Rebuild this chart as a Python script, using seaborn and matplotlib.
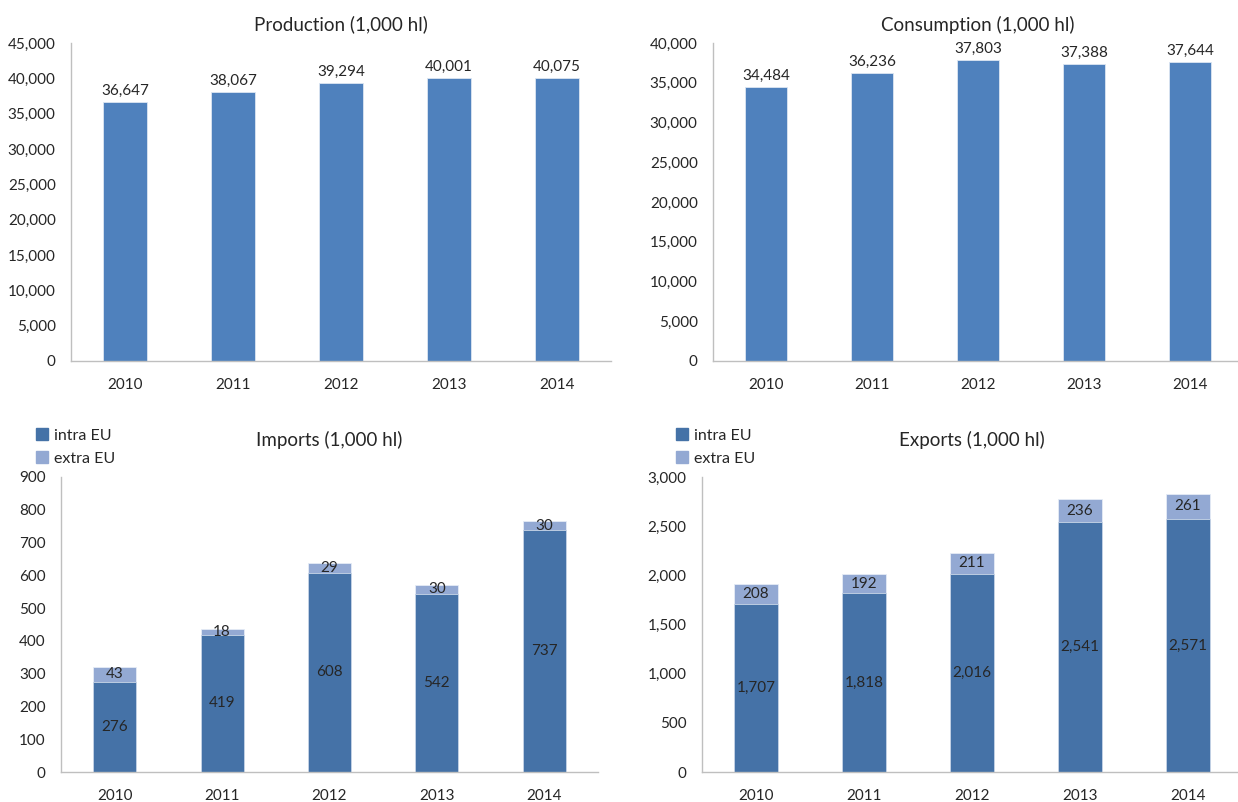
import matplotlib
matplotlib.use("Agg")
import matplotlib.pyplot as plt
import matplotlib.ticker as mticker
from matplotlib.patches import Patch
import seaborn as sns
import pandas as pd

years = ["2010", "2011", "2012", "2013", "2014"]
production = [36647, 38067, 39294, 40001, 40075]
consumption = [34484, 36236, 37803, 37388, 37644]
imports_intra = [276, 419, 608, 542, 737]
imports_extra = [43, 18, 29, 30, 30]
exports_intra = [1707, 1818, 2016, 2541, 2571]
exports_extra = [208, 192, 211, 236, 261]

BLUE = "#4F81BD"
INTRA = "#4572A7"
EXTRA = "#93A9D3"
GRID = "#BFBFBF"
TXT = "#262626"

sns.set_theme(style="white")
plt.rcParams["font.family"] = ["Lato", "DejaVu Sans"]

fig = plt.figure(figsize=(12.38, 8.02), dpi=100)
W, H = 1238, 802


def make_ax(left, right, top, bottom):
    # pixel box -> figure fraction
    return fig.add_axes([left / W, 1 - bottom / H, (right - left) / W, (bottom - top) / H])


def style_ax(ax, ymax, step, title, pad):
    ax.set_ylim(0, ymax)
    ax.set_xlim(-0.5, 4.5)
    ax.yaxis.set_major_locator(mticker.MultipleLocator(step))
    ax.yaxis.set_major_formatter(mticker.FuncFormatter(lambda v, p: f"{int(v):,}"))
    for s in ["top", "right"]:
        ax.spines[s].set_visible(False)
    for s in ["left", "bottom"]:
        ax.spines[s].set_color(GRID)
        ax.spines[s].set_linewidth(1)
    ax.set_xticks(range(5))
    ax.set_xticklabels(years)
    ax.xaxis.set_minor_locator(mticker.FixedLocator([i + 0.5 for i in range(-1, 5)]))
    ax.tick_params(axis="x", which="major", length=0, pad=12, labelsize=11, labelcolor=TXT)
    ax.tick_params(axis="x", which="minor", length=5, color=GRID, width=1)
    ax.tick_params(axis="y", length=5, color=GRID, width=1, labelsize=11, labelcolor=TXT, pad=6)
    ax.set_xlabel("")
    ax.set_ylabel("")
    ax.set_title(title, fontsize=13.5, color=TXT, pad=pad)


def simple_bars(ax, values, ymax, step, title):
    df = pd.DataFrame({"year": years, "value": values})
    sns.barplot(data=df, x="year", y="value", color=BLUE, width=0.4,
                edgecolor="#DCE6F2", linewidth=0.6, saturation=1, ax=ax)
    style_ax(ax, ymax, step, title, pad=9)
    ax.bar_label(ax.containers[0], labels=[f"{v:,}" for v in values],
                 padding=3, fontsize=11, color=TXT)


def stacked_bars(ax, intra, extra, ymax, step, title):
    df = pd.DataFrame({"year": years, "intra": intra, "extra": extra})
    df["total"] = df["intra"] + df["extra"]
    # total first (extra colour), intra drawn over it
    sns.barplot(data=df, x="year", y="total", color=EXTRA, width=0.4,
                edgecolor="#E5ECF6", linewidth=0.6, saturation=1, ax=ax)
    sns.barplot(data=df, x="year", y="intra", color=INTRA, width=0.4,
                edgecolor="#C9D6E8", linewidth=0.6, saturation=1, ax=ax)
    style_ax(ax, ymax, step, title, pad=22)
    for bar_i, v_i, v_e in zip(ax.containers[1], intra, extra):
        x = bar_i.get_x() + bar_i.get_width() / 2
        ax.text(x, v_i + v_e / 2, f"{v_e:,}", ha="center", va="center", fontsize=11, color=TXT)
        ax.text(x, v_i / 2, f"{v_i:,}", ha="center", va="center", fontsize=11, color=TXT)


ax1 = make_ax(71, 611, 43, 361)
simple_bars(ax1, production, 45000, 5000, "Production (1,000 hl)")

ax2 = make_ax(713, 1243, 43, 361)
simple_bars(ax2, consumption, 40000, 5000, "Consumption (1,000 hl)")

ax3 = make_ax(61, 598, 477, 772)
stacked_bars(ax3, imports_intra, imports_extra, 900, 100, "Imports (1,000 hl)")

ax4 = make_ax(702, 1242, 477, 772)
stacked_bars(ax4, exports_intra, exports_extra, 3000, 500, "Exports (1,000 hl)")

handles = [Patch(color=INTRA, label="intra EU"), Patch(color=EXTRA, label="extra EU")]
for x0 in (22, 662):
    fig.legend(handles=handles, loc="upper left", bbox_to_anchor=(x0 / W, 1 - 414 / H),
               frameon=False, fontsize=11.5, handlelength=0.7, handleheight=0.7,
               handletextpad=0.4, labelspacing=0.55, labelcolor=TXT)

fig.savefig("out.png", dpi=100, facecolor="white")
